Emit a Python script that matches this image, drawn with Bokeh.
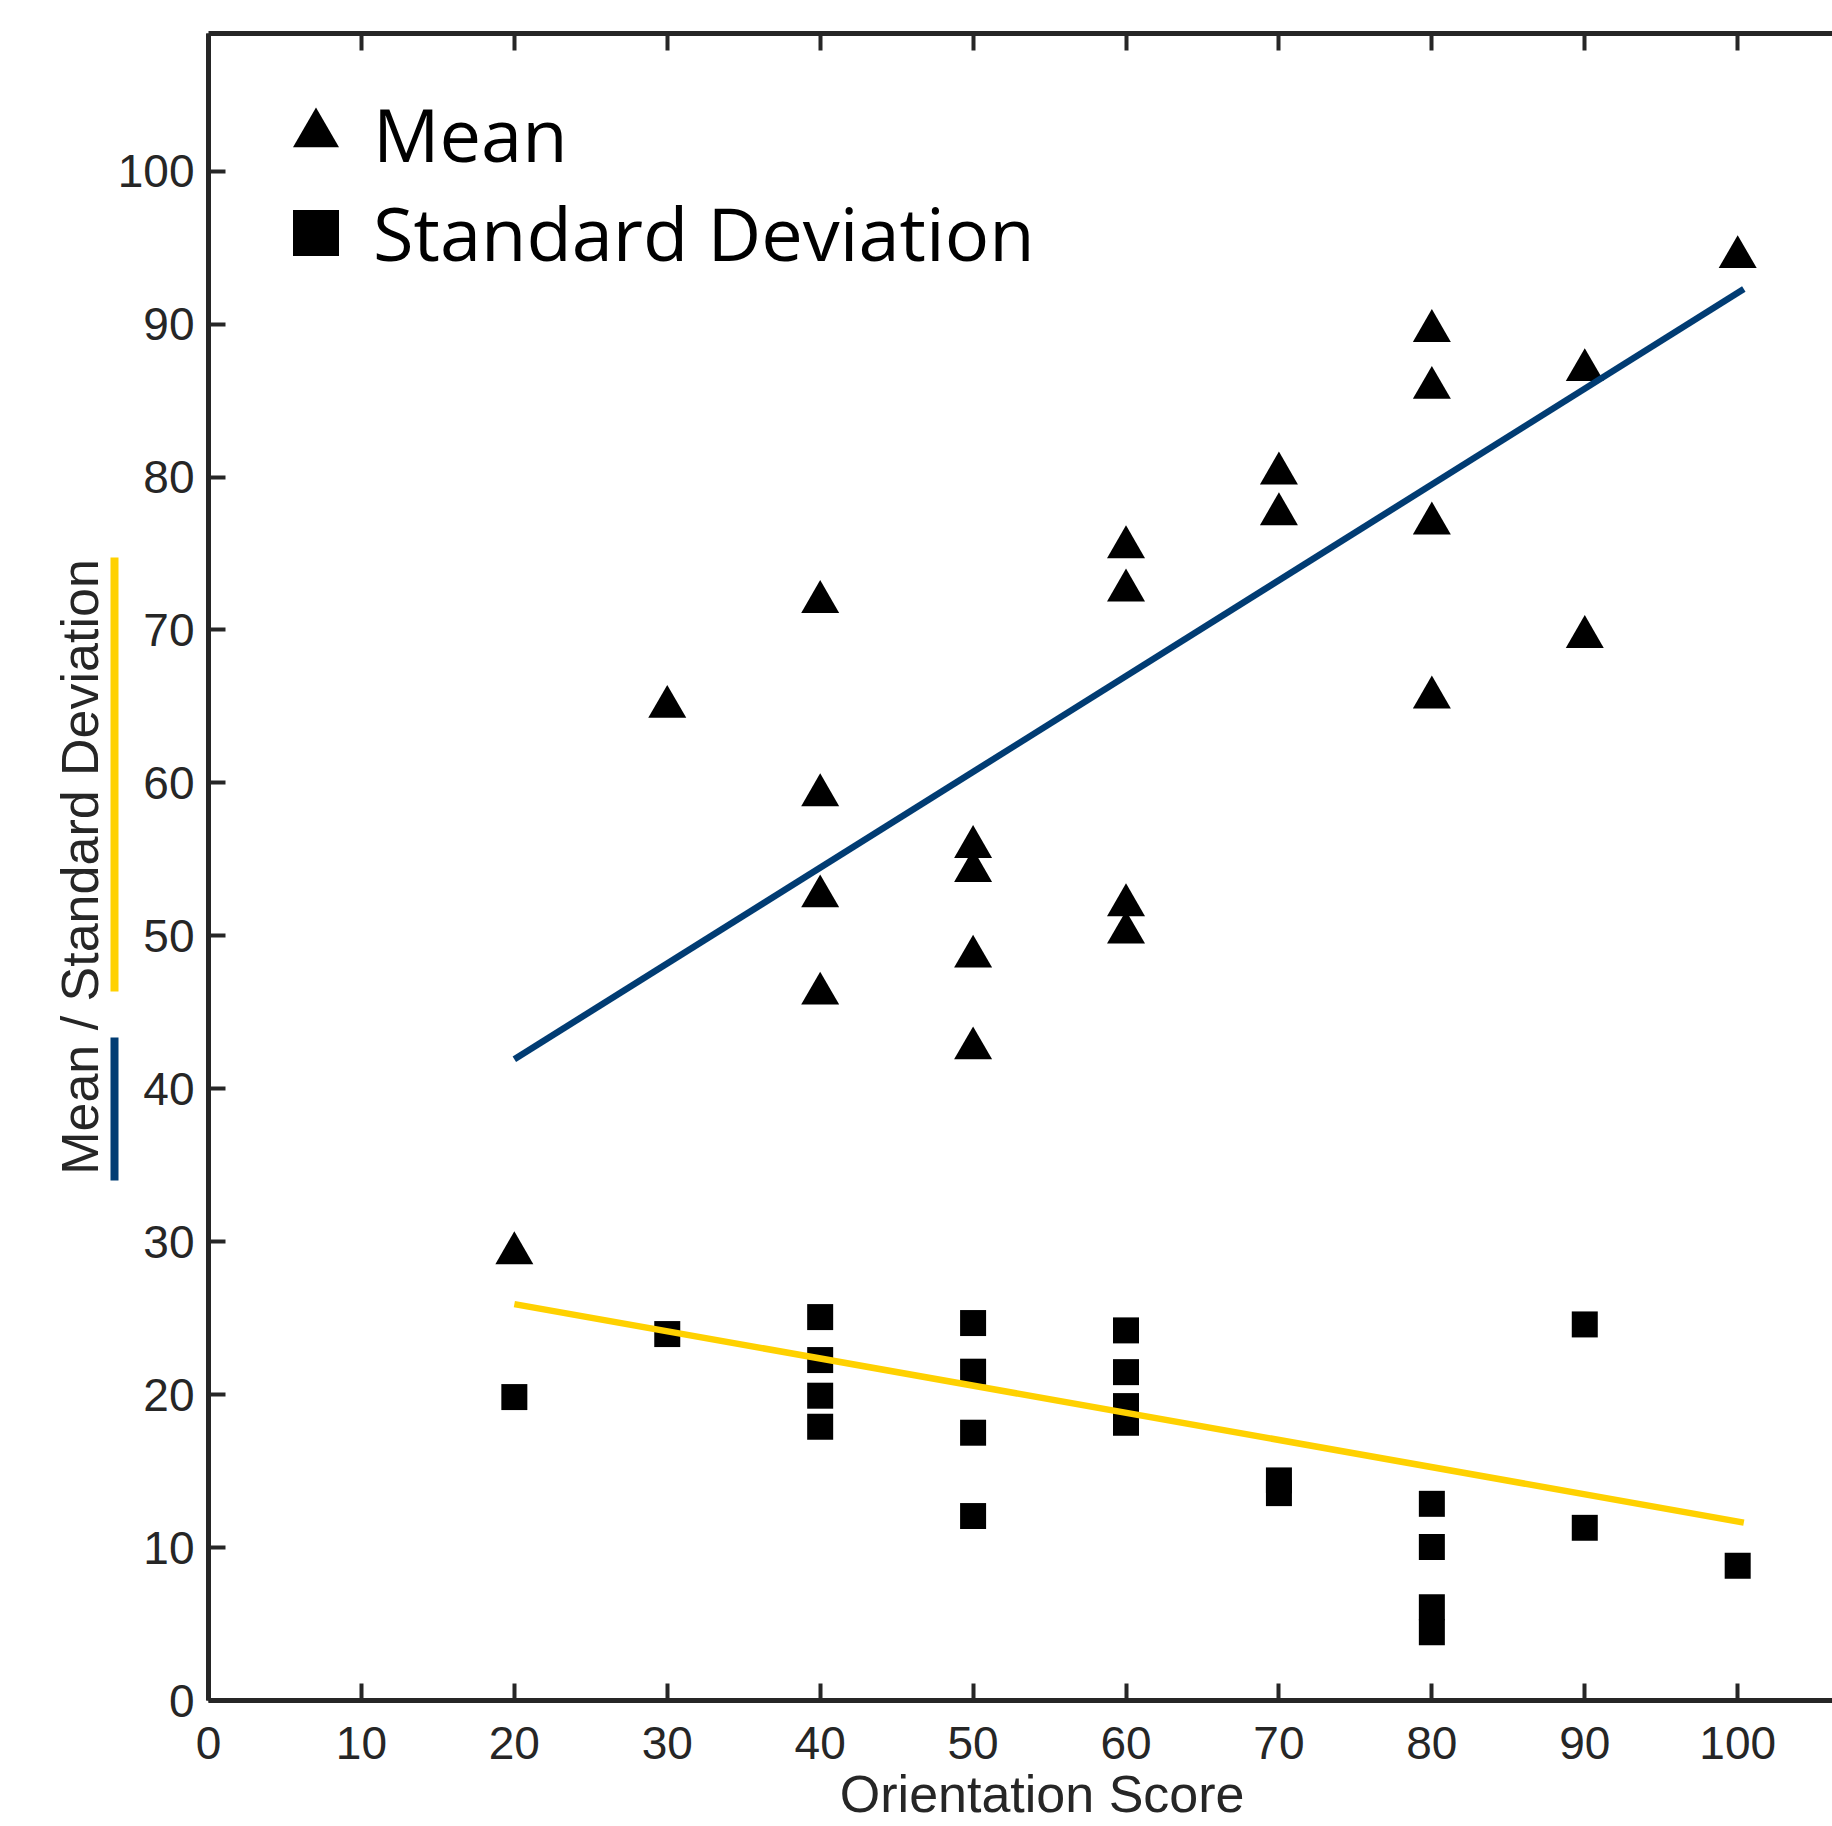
from bokeh.plotting import figure
from bokeh.models import (Range1d, LinearAxis, FixedTicker, Legend, LegendItem,
                          CustomJSTickFormatter)
from bokeh.embed import file_html
from bokeh.resources import INLINE

# ---------------- data ----------------
scores = [20, 30, 40, 40, 40, 40, 50, 50, 50, 50, 60, 60, 60, 60,
          70, 70, 80, 80, 80, 80, 90, 90, 100]
means = [29.25, 64.97, 71.83, 59.19, 52.58, 46.22, 55.81, 54.24, 48.64, 42.64,
         75.41, 72.58, 52.00, 50.21, 80.23, 77.57, 89.55, 85.83, 76.96, 65.58,
         86.99, 69.54, 94.38]
sds = [19.84, 23.96, 25.07, 22.26, 19.93, 17.90, 24.68, 21.50, 17.51, 12.06,
       24.20, 21.47, 19.25, 18.16, 14.39, 13.56, 12.86, 10.03, 6.10, 4.47,
       24.59, 11.29, 8.81]

fit_x = [20, 100.4]
mean_fit = [41.93, 92.29]
sd_fit = [25.92, 11.63]

tick_values = [0, 10, 20, 30, 40, 50, 60, 70, 80, 90, 100]

# y-extent of the coloured keys beside the y-axis title (axis units)
sd_key = (46.37, 74.76)
mean_key = (34.01, 43.36)

# ---------------- style ----------------
BLUE = "#013C73"
YELLOW = "#FFD100"
AXIS = "#262626"
TICK_FONT = "Liberation Sans"
X_END = 106.2
Y_END = 109.0
NBSP = "\u00a0"

p = figure(width=1832, height=1826,
           x_range=Range1d(0, X_END), y_range=Range1d(0, Y_END),
           output_backend="svg", toolbar_location=None,
           min_border_left=208, min_border_right=0,
           min_border_top=33, min_border_bottom=126)
p.outline_line_color = None
p.grid.visible = False
p.background_fill_color = "white"
p.border_fill_color = "white"

# markers
tri = p.scatter(scores, means, marker="triangle", size=38,
                fill_color="black", line_color=None)
sq = p.scatter(scores, sds, marker="square", size=26,
               fill_color="black", line_color=None)

# trend lines (drawn on top of markers)
p.line(fit_x, mean_fit, line_color=BLUE, line_width=6.5, line_cap="butt")
p.line(fit_x, sd_fit, line_color=YELLOW, line_width=6.5, line_cap="butt")


def style_axis(ax):
    ax.ticker = FixedTicker(ticks=tick_values)
    ax.axis_line_color = AXIS
    ax.axis_line_width = 5
    ax.major_tick_line_color = AXIS
    ax.major_tick_line_width = 4
    ax.major_tick_in = 17
    ax.major_tick_out = 0
    ax.minor_tick_line_color = None
    ax.major_label_text_font = TICK_FONT
    ax.major_label_text_color = AXIS
    ax.major_label_text_font_size = "46px"


xax = p.xaxis[0]
yax = p.yaxis[0]
style_axis(xax)
style_axis(yax)
xax.major_label_standoff = 26
yax.major_label_standoff = 14

xax.axis_label = NBSP * 3 + "Orientation Score"
xax.axis_label_text_font = TICK_FONT
xax.axis_label_text_font_size = "52px"
xax.axis_label_text_font_style = "normal"
xax.axis_label_text_color = AXIS
xax.axis_label_standoff = 3

# top spine with inward ticks, no labels
top_axis = LinearAxis(formatter=CustomJSTickFormatter(code="return ''"))
style_axis(top_axis)
top_axis.minor_tick_out = 0
top_axis.major_label_standoff = 0
top_axis.major_label_text_font_size = "1px"
p.add_layout(top_axis, "above")


def key_axis(bounds, color):
    ax = LinearAxis(ticker=FixedTicker(ticks=[]), bounds=bounds,
                    axis_line_color=color, axis_line_width=8,
                    major_tick_out=0, minor_tick_out=0, major_tick_in=0,
                    minor_tick_in=0, major_label_standoff=0)
    return ax


p.add_layout(key_axis(sd_key, YELLOW), "left")
p.add_layout(key_axis(mean_key, BLUE), "left")

title_axis = LinearAxis(ticker=FixedTicker(ticks=[]), axis_line_color=None,
                        major_tick_out=0, minor_tick_out=0, major_tick_in=0,
                        minor_tick_in=0, major_label_standoff=0,
                        axis_label="Mean / Standard Deviation",
                        axis_label_text_font=TICK_FONT,
                        axis_label_text_font_size="52px",
                        axis_label_text_font_style="normal",
                        axis_label_text_color=AXIS,
                        axis_label_standoff=6)
p.add_layout(title_axis, "left")


# legend (two single-row legends for exact row spacing)
def make_legend(label, renderer, vy):
    return Legend(items=[LegendItem(label=label, renderers=[renderer])],
                  location=(50, vy), glyph_width=115, glyph_height=115,
                  label_standoff=0, padding=0, margin=0, spacing=0,
                  label_text_font="Open Sans", label_text_font_size="74px",
                  label_text_color="black", border_line_color=None,
                  background_fill_alpha=0)


p.add_layout(make_legend("Mean", tri, 1509))
p.add_layout(make_legend("Standard Deviation", sq, 1410))

open("out.html", "w").write(file_html(p, INLINE))
